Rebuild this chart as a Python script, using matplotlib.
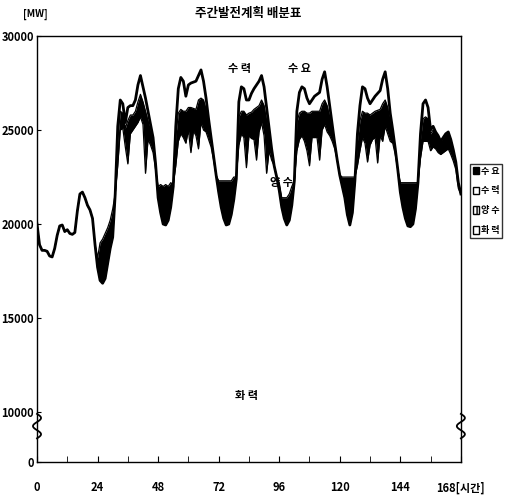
import numpy as np
import matplotlib.pyplot as plt
from matplotlib.patches import Patch

plt.rcParams['font.family'] = ['Noto Sans CJK KR', 'DejaVu Sans']

# 시간 (0 ~ 168시간, 1시간 간격)
hours = np.arange(169)

# 수요 [MW]
demand = [
    20000, 18900, 18600, 18600, 18550, 18300, 18250, 18700, 19400, 19900,
    19950, 19600, 19700, 19500, 19450, 19550, 20700, 21600, 21700, 21400,
    21000, 20750, 20300, 18900, 17700, 17000, 16850, 17100, 17900, 18700,
    19300, 21600, 25200, 26600, 26400, 25400, 26200, 26300, 26300, 26600,
    27400, 27900, 27300, 26700, 26000, 25300, 24600, 23200, 21400, 20600,
    20000, 19950, 20200, 20900, 22000, 25200, 27200, 27800, 27600, 26800,
    27400, 27500, 27550, 27600, 27900, 28200, 27600, 26700, 25600, 24600,
    23600, 22600, 21700, 20900, 20300, 19950, 20000, 20500, 21300, 22400,
    26500, 27300, 27200, 26600, 26600, 26950, 27200, 27400, 27600, 27900,
    27300, 26200, 25100, 24000, 23100, 22500, 21800, 20900, 20300, 19950,
    20200, 21000, 22300, 26000, 27000, 27300, 27200, 26700, 26400, 26600,
    26800, 26900, 27000, 27700, 28100, 27300, 26300, 25300, 24300, 23400,
    22600, 22000, 21400, 20500, 19950, 20600, 22300, 24800, 26300, 27300,
    27200, 26700, 26400, 26600, 26800, 26950, 27100, 27700, 28100, 27200,
    25900, 25000, 24000, 22900, 21700, 20900, 20300, 19900, 19860, 20000,
    20800, 22200, 24800, 26400, 26600, 26200, 25000, 25200, 24900, 24700,
    24400, 24600, 24800, 24900, 24500, 23950, 23300, 22200, 21600,
]

# 수력 발전 [MW]
hydro = [
    0, 0, 0, 0, 0, 0, 0, 0, 0, 0,
    0, 0, 0, 0, 0, 0, 0, 0, 0, 0,
    0, 0, 0, 0, 0, 0, 0, 0, 0, 0,
    0, 0, 800, 600, 500, 300, 700, 500, 500, 600,
    900, 1000, 800, 700, 500, 400, 300, 0, 0, 0,
    0, 0, 0, 0, 0, 600, 1300, 1700, 1600, 800,
    1200, 1300, 1400, 1500, 1300, 1500, 1000, 600, 300, 0,
    0, 0, 0, 0, 0, 0, 0, 0, 0, 0,
    800, 1300, 1200, 800, 700, 1000, 1100, 1200, 1300, 1300,
    1000, 700, 400, 200, 0, 0, 0, 0, 0, 0,
    0, 0, 0, 600, 1100, 1300, 1200, 800, 500, 600,
    800, 900, 1000, 1300, 1500, 1000, 600, 300, 0, 0,
    0, 0, 0, 0, 0, 0, 0, 400, 800, 1300,
    1300, 800, 600, 700, 800, 900, 1000, 1300, 1500, 1000,
    500, 200, 0, 0, 0, 0, 0, 0, 0, 0,
    0, 0, 300, 800, 900, 600, 200, 200, 100, 100,
    0, 0, 0, 0, 0, 0, 0, 0, 0,
]

# 양수 [MW] (+: 발전, -: 양수 동력)
pumped = [
    0, 0, 0, 0, 0, 0, 0, 0, 0, 0,
    0, 0, 0, 0, 0, 0, 0, 0, 0, 0,
    0, 0, 0, 0, -500, -2000, -2350, -2400, -1900, -1500,
    -1500, 0, 1300, 1000, 800, 1000, 2300, 1000, 800, 800,
    1100, 1200, 1200, 3300, 1000, 700, 500, 300, -600, -1500,
    -2000, -2150, -1800, -1300, -100, 1500, 1500, 1300, 1400, 1700,
    1200, 2400, 1200, 1400, 2600, 1300, 1600, 1200, 800, 500,
    200, 0, -600, -1400, -2000, -2350, -2300, -1800, -1200, -100,
    1500, 1200, 1400, 2800, 1200, 1400, 1600, 2800, 1400, 1200,
    1600, 2800, 800, 400, 0, 0, -400, -500, -1100, -1450,
    -1400, -1000, 0, 1500, 1400, 1300, 1600, 2000, 2800, 1400,
    1400, 1400, 2600, 1400, 1300, 1400, 1000, 600, 300, 0,
    0, -500, -1100, -2000, -2550, -1900, -200, 1300, 1600, 1400,
    1600, 2600, 1600, 1400, 1400, 2800, 1400, 2000, 1400, 1400,
    1000, 500, 300, 0, -500, -1300, -1900, -2300, -2340, -2200,
    -1400, 0, 1000, 1200, 1300, 1200, 900, 900, 800, 800,
    700, 800, 900, 900, 800, 600, 400, 300, 0,
]

demand = np.array(demand, dtype=float)
hydro = np.array(hydro, dtype=float)
pumped = np.array(pumped, dtype=float)
thermal = demand - hydro - pumped  # 화력

# 0 ~ 10000 구간은 축을 줄여서 그림 (축 생략)
y_zero = 7340

fig = plt.figure(figsize=(5.07, 4.97), dpi=100)
ax = fig.add_axes([0.073, 0.0704, 0.836, 0.857])

ax.fill_between(hours, thermal, thermal + pumped, color='black', linewidth=0)
ax.plot(hours, thermal, color='black', linewidth=0.9)
ax.plot(hours, thermal + pumped, color='black', linewidth=0.9)
ax.plot(hours, demand, color='black', linewidth=2.0)

ax.set_xlim(0, 168)
ax.set_ylim(y_zero, 30000)

ax.set_yticks([y_zero, 10000, 15000, 20000, 25000, 30000])
ax.set_yticklabels(['0', '10000', '15000', '20000', '25000', '30000'])
ax.set_xticks([0, 24, 48, 72, 96, 120, 144, 168])
ax.set_xticklabels(['0', '24', '48', '72', '96', '120', '144', '168[시간]'])
ax.set_xticks(np.arange(12, 168, 12), minor=True)
ax.tick_params(axis='x', direction='in', length=4, labelsize=8, pad=14)
ax.tick_params(axis='x', which='minor', direction='in', length=4)
ax.tick_params(axis='y', direction='in', length=3, labelsize=8, pad=2)
for lab in ax.get_xticklabels() + ax.get_yticklabels():
    lab.set_fontweight('bold')
for sp in ax.spines.values():
    sp.set_linewidth(1.0)

# 축 생략 표시 (물결)
tt = np.linspace(0, 1, 40)
for xc in (0, 168):
    ax.plot(xc + 1.6 * np.sin(tt * 2 * np.pi * 1.5), 9900 - tt * 1300,
            color='black', linewidth=1.3, clip_on=False)

# 주석
ax.text(80.4, 28100, '수 력', fontsize=8, fontweight='bold', ha='center')
ax.text(104.2, 28100, '수 요', fontsize=8, fontweight='bold', ha='center')
ax.text(97, 22000, '양 수', fontsize=8, fontweight='bold', ha='center')
ax.text(83.2, 10700, '화 력', fontsize=8, fontweight='bold', ha='center')

fig.text(0.49, 0.972, '주간발전계획 배분표', fontsize=9, fontweight='bold', ha='center', va='center')
fig.text(0.069, 0.972, '[MW]', fontsize=7, fontweight='bold', ha='center', va='center')

handles = [
    Patch(facecolor='black', edgecolor='black'),
    Patch(facecolor='white', edgecolor='black'),
    Patch(facecolor='white', edgecolor='black', hatch='||||'),
    Patch(facecolor='white', edgecolor='black'),
]
leg = ax.legend(handles, ['수 요', '수 력', '양 수', '화 력'],
                loc='upper left', bbox_to_anchor=(1.022, 0.70),
                fontsize=6.5, frameon=True, fancybox=False, edgecolor='black',
                handlelength=0.7, handleheight=0.9, handletextpad=0.15,
                borderpad=0.3, labelspacing=1.2, borderaxespad=0)
for t in leg.get_texts():
    t.set_fontweight('bold')

plt.savefig('out.png', dpi=100)
